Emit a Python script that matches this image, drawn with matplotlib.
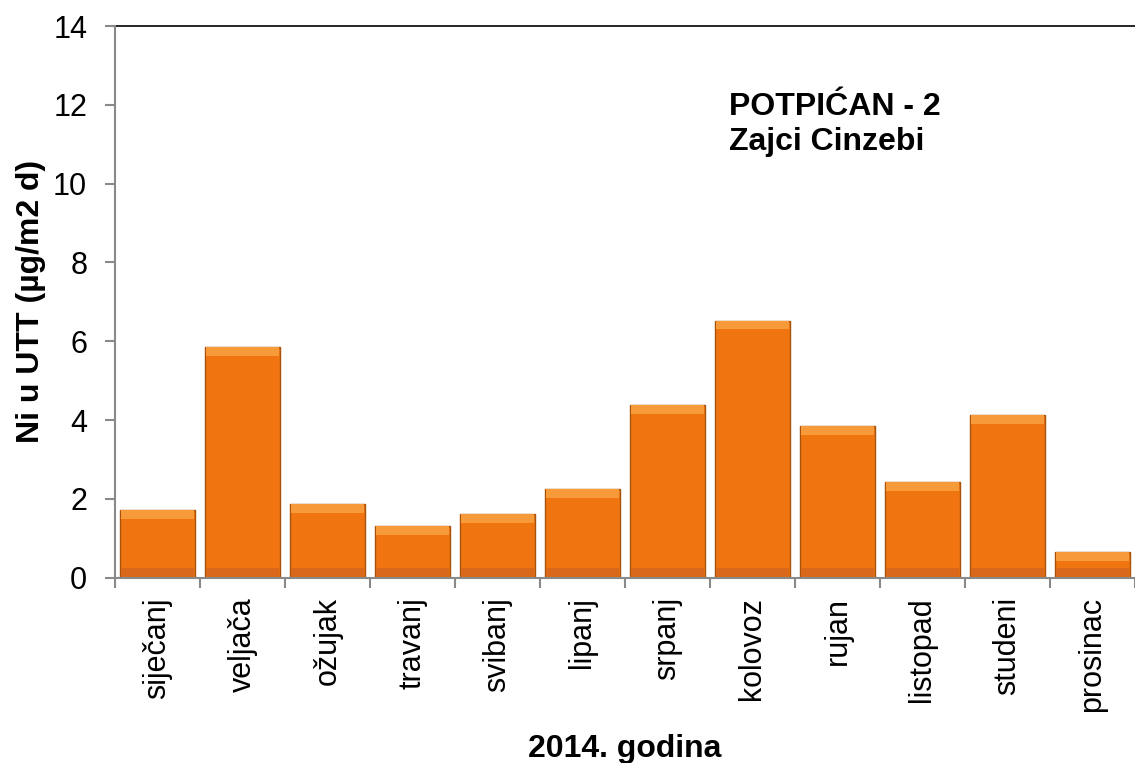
import numpy as np
import matplotlib.pyplot as plt

plt.rcParams['font.family'] = ['Liberation Sans', 'DejaVu Sans']

months = ['siječanj', 'veljača', 'ožujak', 'travanj', 'svibanj', 'lipanj',
          'srpanj', 'kolovoz', 'rujan', 'listopad', 'studeni', 'prosinac']
ni_values = [1.72, 5.85, 1.87, 1.30, 1.62, 2.25, 4.38, 6.52, 3.85, 2.43, 4.13, 0.65]

fig = plt.figure(figsize=(11.35, 7.63), dpi=100)
ax = fig.add_axes([0.1013, 0.2429, 0.8987, 0.7230])

x = np.arange(len(months))
vals = np.array(ni_values)
w = 0.886
ax.bar(x, vals, width=w, color='#F07510', edgecolor='#A8520C', linewidth=1.0, zorder=2)
# bevel look: light strip on top, darker strip at the bottom
band = 0.22
ax.bar(x, band, bottom=vals - band, width=w * 0.96, color='#F79A3A', linewidth=0, zorder=3)
ax.bar(x, band, bottom=0.02, width=w * 0.96, color='#D9681A', linewidth=0, zorder=3)

ax.set_xlim(-0.5, len(months) - 0.5)
ax.set_ylim(0, 14)
ax.set_yticks(range(0, 15, 2))
ax.set_xticks(x)
ax.set_xticklabels(months, rotation=90, fontsize=22)
ax.set_xticks(np.arange(-0.5, len(months)), minor=True)
ax.tick_params(axis='x', which='major', length=0, pad=14)
ax.tick_params(axis='x', which='minor', length=7, width=1.5, color='#898989')
ax.tick_params(axis='y', labelsize=22, length=7, width=1.5, color='#898989', pad=13)

for s in ['left', 'bottom']:
    ax.spines[s].set_color('#898989')
    ax.spines[s].set_linewidth(1.5)
    ax.spines[s].set_zorder(4)
ax.spines['top'].set_color('black')
ax.spines['top'].set_linewidth(1.2)
ax.spines['right'].set_visible(False)

ax.set_ylabel('Ni u UTT (µg/m2 d)', fontsize=23, fontweight='bold', labelpad=5)
ax.set_xlabel('2014. godina', fontsize=23, fontweight='bold', labelpad=16)

ax.text(0.602, 0.88, 'POTPIĆAN - 2\nZajci Cinzebi', transform=ax.transAxes,
        fontsize=23, fontweight='bold', va='top', ha='left', linespacing=1.2)

fig.savefig('out.png', dpi=100)
